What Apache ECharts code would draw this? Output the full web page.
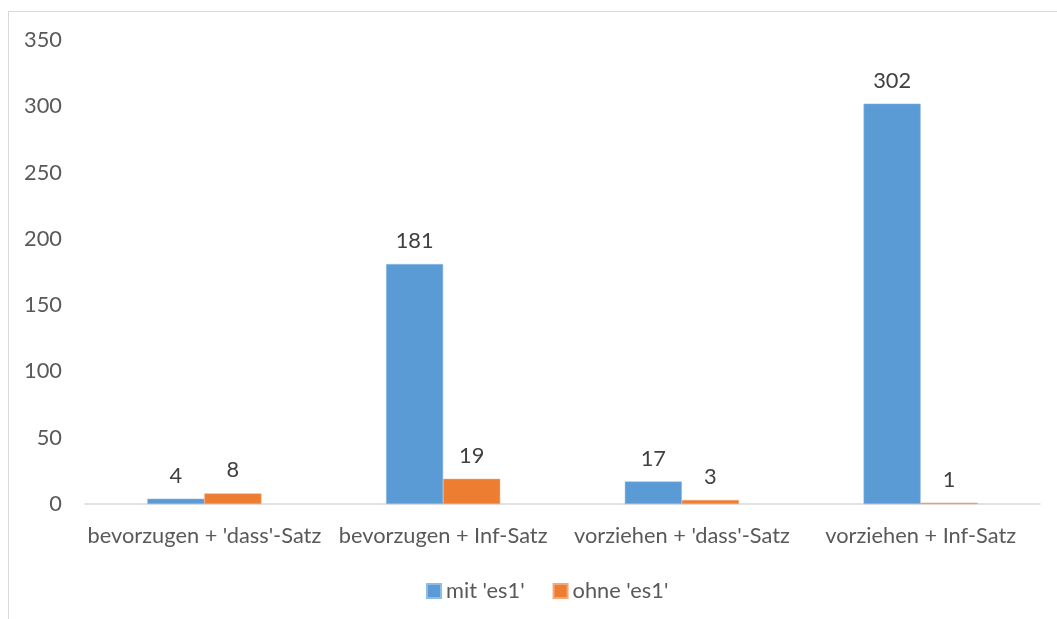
<!DOCTYPE html>
<html>
<head>
<meta charset="utf-8">
<script src="https://cdn.jsdelivr.net/npm/echarts@6/dist/echarts.min.js"></script>
<style>
  html, body { margin: 0; padding: 0; background: #fff; }
  #frame { position: absolute; left: 8px; top: 11px; width: 1060px; height: 620px; border: 1px solid #d9d9d9; box-sizing: border-box; }
  #chart { position: absolute; left: 0; top: 0; width: 1057px; height: 619px; }
</style>
</head>
<body>
<div id="frame"></div>
<div id="chart"></div>
<script>
const categories = ["bevorzugen + 'dass'-Satz", "bevorzugen + Inf-Satz", "vorziehen + 'dass'-Satz", "vorziehen + Inf-Satz"];
const seriesNames = ["mit 'es1'", "ohne 'es1'"];
const mitEs1 = [4, 181, 17, 302];
const ohneEs1 = [8, 19, 3, 1];
const yTicks = { min: 0, max: 350, interval: 50 };

const textColor = '#595959';
const fontFamily = 'Lato, "Open Sans", sans-serif';
const fontSize = 21.8;

const chart = echarts.init(document.getElementById('chart'));
const labelStyle = { show: true, position: 'top', distance: 12, color: '#404040', fontSize: fontSize, fontFamily: fontFamily };

chart.setOption({
  animation: false,
  textStyle: { fontFamily: fontFamily },
  grid: { left: 85, right: 17, top: 40, bottom: 115, containLabel: false },
  legend: {
    data: seriesNames,
    bottom: 12,
    left: 421,
    itemWidth: 14,
    itemHeight: 14,
    itemGap: 28,
    icon: 'rect',
    textStyle: { color: textColor, fontSize: fontSize, fontFamily: fontFamily }
  },
  xAxis: {
    type: 'category',
    data: categories,
    axisLine: { lineStyle: { color: '#d9d9d9', width: 1.5 } },
    axisTick: { show: false },
    axisLabel: { color: textColor, fontSize: fontSize, margin: 21, interval: 0, fontFamily: fontFamily }
  },
  yAxis: {
    type: 'value',
    min: yTicks.min,
    max: yTicks.max,
    interval: yTicks.interval,
    axisLine: { show: false },
    axisTick: { show: false },
    splitLine: { show: false },
    axisLabel: { color: textColor, fontSize: fontSize, margin: 23, fontFamily: fontFamily }
  },
  series: [
    {
      name: seriesNames[0],
      type: 'bar',
      data: mitEs1,
      barWidth: '23.9%',
      barGap: '0%',
      itemStyle: { color: '#5B9BD5', borderColor: '#8fbce6', borderWidth: 0.5 },
      label: labelStyle
    },
    {
      name: seriesNames[1],
      type: 'bar',
      data: ohneEs1,
      barWidth: '23.9%',
      itemStyle: { color: '#ED7D31', borderColor: '#f4a777', borderWidth: 0.5 },
      label: labelStyle
    }
  ]
});
</script>
</body>
</html>
